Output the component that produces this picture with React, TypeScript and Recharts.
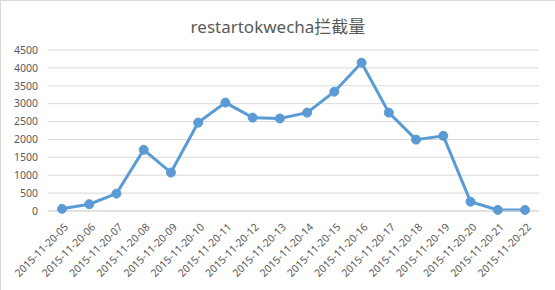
import { LineChart, Line, XAxis, YAxis, CartesianGrid } from "recharts";

const hours = [
  "2015-11-20-05", "2015-11-20-06", "2015-11-20-07", "2015-11-20-08",
  "2015-11-20-09", "2015-11-20-10", "2015-11-20-11", "2015-11-20-12",
  "2015-11-20-13", "2015-11-20-14", "2015-11-20-15", "2015-11-20-16",
  "2015-11-20-17", "2015-11-20-18", "2015-11-20-19", "2015-11-20-20",
  "2015-11-20-21", "2015-11-20-22",
];

const blocked = [
  60, 190, 485, 1710, 1075, 2470, 3030, 2610, 2585, 2750,
  3335, 4145, 2750, 1995, 2100, 260, 30, 30,
];

const yTicks = [0, 500, 1000, 1500, 2000, 2500, 3000, 3500, 4000, 4500];

const FONT = "'Noto Sans', 'Noto Sans CJK SC', sans-serif";

const data = hours.map((h, i) => ({ name: h, value: blocked[i] }));

const RotatedTick = (props: any) => {
  const { x, y, payload } = props;
  return (
    <g transform={`translate(${x + 4},${y + 6})`}>
      <text
        x={0}
        y={0}
        dy={4}
        textAnchor="end"
        fill="#595959"
        fontSize={10.5}
        fontFamily={FONT}
        transform="rotate(-45)"
      >
        {payload.value}
      </text>
    </g>
  );
};

export default function App() {
  return (
    <div
      style={{
        position: "absolute",
        left: 0,
        top: 0,
        width: 554,
        height: 289,
        border: "1px solid #d9d9d9",
        background: "#fff",
        fontFamily: FONT,
      }}
    >
      <div
        style={{
          position: "absolute",
          top: 12,
          width: "100%",
          textAlign: "center",
          fontSize: 17,
          color: "#595959",
        }}
      >
        restartokwecha拦截量
      </div>
      <div style={{ position: "absolute", left: -1, top: -1 }}>
        <LineChart
          width={555}
          height={290}
          data={data}
          margin={{ top: 50, right: 16, bottom: 0, left: 0 }}
        >
          <CartesianGrid vertical={false} stroke="#d9d9d9" />
          <XAxis
            dataKey="name"
            interval={0}
            tick={<RotatedTick />}
            tickLine={false}
            axisLine={{ stroke: "#d9d9d9" }}
            padding={{ left: 14, right: 14 }}
            height={79}
          />
          <YAxis
            width={48}
            domain={[0, 4500]}
            ticks={yTicks}
            interval={0}
            tickLine={false}
            axisLine={false}
            tickMargin={4}
            tick={{ fill: "#595959", fontSize: 10.5, fontFamily: FONT }}
          />
          <Line
            type="linear"
            dataKey="value"
            stroke="#5B9BD5"
            strokeWidth={3}
            dot={{ r: 4.5, fill: "#5B9BD5", stroke: "#5B9BD5", strokeWidth: 1 }}
            isAnimationActive={false}
          />
        </LineChart>
      </div>
    </div>
  );
}
